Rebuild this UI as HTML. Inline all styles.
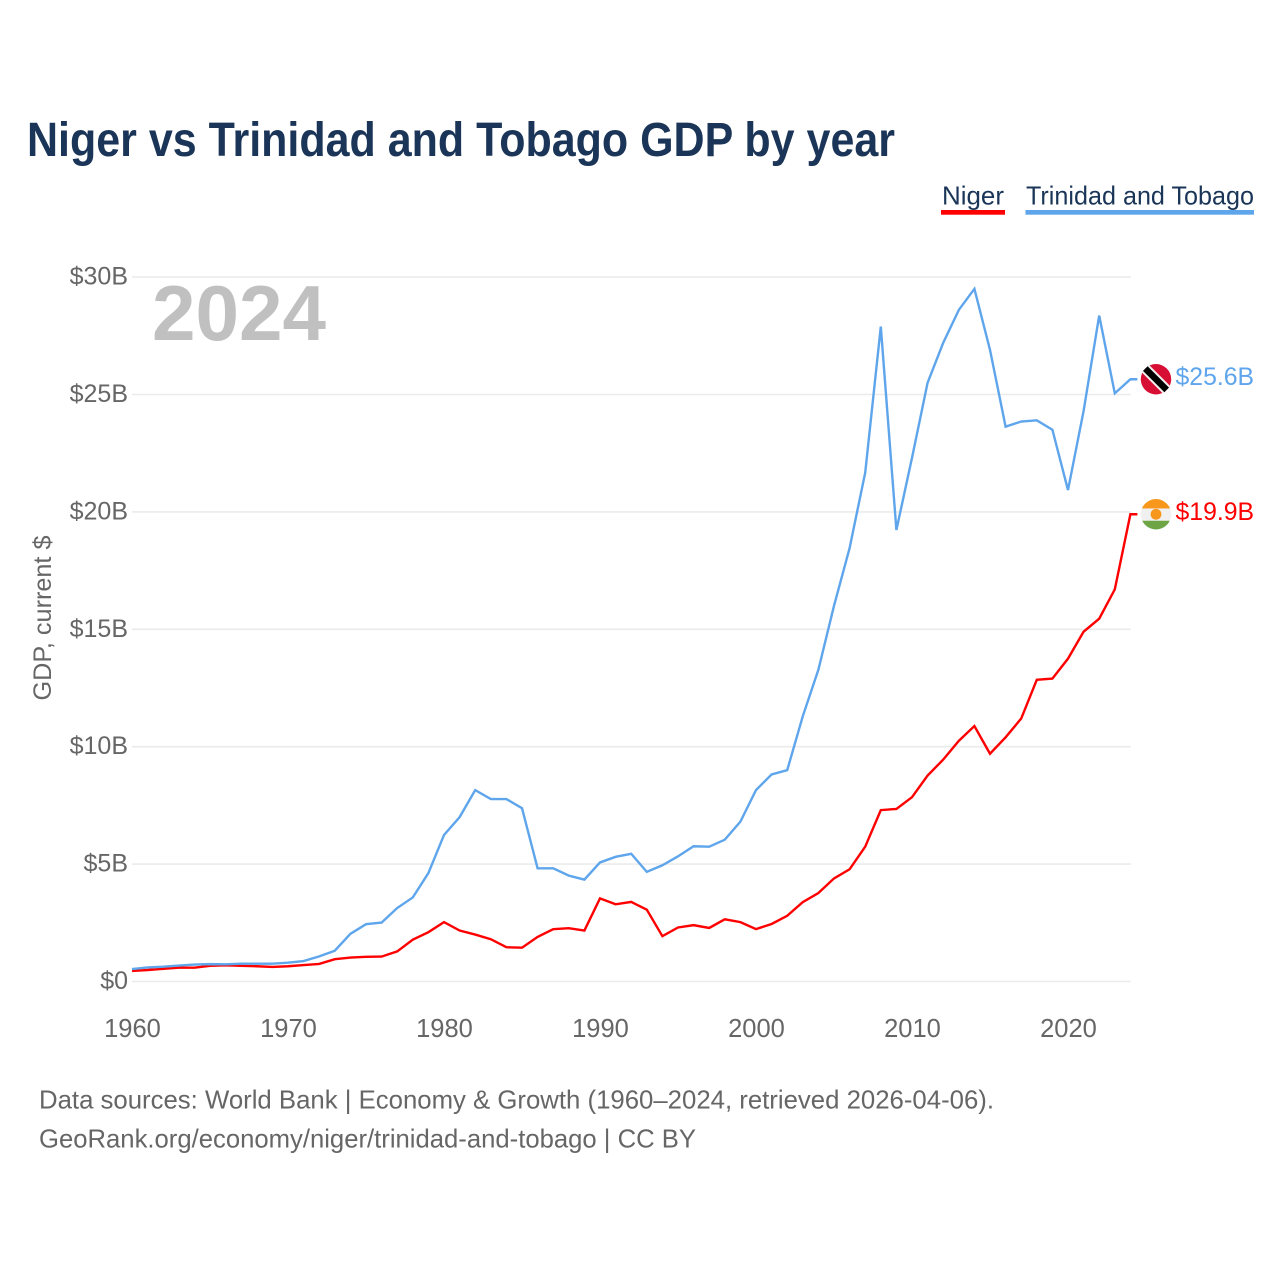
<!DOCTYPE html>
<html lang="en">
<head>
<meta charset="utf-8">
<title>Niger vs Trinidad and Tobago GDP by year</title>
<style>
html,body{margin:0;padding:0;background:#fff;}
svg{display:block;font-family:"Liberation Sans",sans-serif;}
</style>
</head>
<body>
<svg id="chart" xmlns="http://www.w3.org/2000/svg" width="1280" height="1280" viewBox="0 0 1280 1280">
  <rect x="0" y="0" width="1280" height="1280" fill="#ffffff"/>
  <text x="27" y="156" font-size="48" font-weight="700" fill="#1a3557" textLength="868" lengthAdjust="spacingAndGlyphs">Niger vs Trinidad and Tobago GDP by year</text>

  <g>
    <g>
      <text x="942" y="204.5" font-size="26" fill="#1a3557" textLength="62" lengthAdjust="spacingAndGlyphs">Niger</text>
      <rect x="941" y="210" width="64" height="4.7" fill="#ff0000"/>
    </g>
    <g>
      <text x="1026" y="204.5" font-size="26" fill="#1a3557" textLength="228" lengthAdjust="spacingAndGlyphs">Trinidad and Tobago</text>
      <rect x="1025.5" y="210" width="228.5" height="4.7" fill="#5ea5ec"/>
    </g>
  </g>

  <g id="grid"></g>
  <g id="yticks"></g>
  <g id="xticks"></g>

  <text x="152" y="340" font-size="78" font-weight="700" fill="#c0c0c0" textLength="174" lengthAdjust="spacingAndGlyphs">2024</text>

  <text transform="translate(51,618) rotate(-90)" text-anchor="middle" font-size="25" fill="#666666" textLength="165" lengthAdjust="spacingAndGlyphs">GDP, current $</text>

  <g id="series"></g>
  <g id="flags"></g>

  <g>
    <text x="39" y="1108.5" font-size="26" fill="#666666" textLength="955" lengthAdjust="spacingAndGlyphs">Data sources: World Bank | Economy &amp; Growth (1960–2024, retrieved 2026-04-06).</text>
    <text x="39" y="1147.5" font-size="26" fill="#666666" textLength="657" lengthAdjust="spacingAndGlyphs">GeoRank.org/economy/niger/trinidad-and-tobago | CC BY</text>
  </g>
</svg>
<script>
const startYear = 1960;
const xTickYears = [1960, 1970, 1980, 1990, 2000, 2010, 2020];
const yTickValues = [0, 5, 10, 15, 20, 25, 30];
const yTickLabels = ["$0", "$5B", "$10B", "$15B", "$20B", "$25B", "$30B"];
const trinidadGdp = [0.53, 0.6, 0.63, 0.68, 0.72, 0.74, 0.73, 0.76, 0.76, 0.76, 0.8, 0.87, 1.07, 1.31, 2.03, 2.44, 2.51, 3.13, 3.58, 4.62, 6.24, 7.0, 8.15, 7.77, 7.77, 7.38, 4.82, 4.82, 4.51, 4.34, 5.07, 5.31, 5.44, 4.67, 4.95, 5.33, 5.76, 5.74, 6.04, 6.81, 8.15, 8.82, 9.0, 11.3, 13.28, 16.0, 18.46, 21.67, 27.89, 19.23, 22.3, 25.5, 27.2, 28.6, 29.5, 26.9, 23.63, 23.85, 23.9, 23.5, 20.93, 24.3, 28.36, 25.05, 25.65];
const nigerGdp = [0.45, 0.49, 0.54, 0.59, 0.59, 0.67, 0.69, 0.67, 0.65, 0.62, 0.65, 0.7, 0.75, 0.95, 1.02, 1.05, 1.06, 1.28, 1.78, 2.1, 2.53, 2.17, 2.0, 1.8, 1.46, 1.44, 1.9, 2.23, 2.27, 2.17, 3.54, 3.29, 3.39, 3.06, 1.93, 2.3, 2.4, 2.28, 2.65, 2.53, 2.23, 2.45, 2.8, 3.38, 3.77, 4.39, 4.78, 5.74, 7.3, 7.35, 7.85, 8.77, 9.45, 10.25, 10.88, 9.7, 10.4, 11.2, 12.85, 12.9, 13.75, 14.9, 15.45, 16.7, 19.9];

const NS = "http://www.w3.org/2000/svg";
function xScale(year) { return 132 + (year - 1960) * 15.6; }
function yScale(value) { return 981.5 - value * 23.48; }
function make(tag, parent, attrs) {
  const el = document.createElementNS(NS, tag);
  for (const k in attrs) el.setAttribute(k, attrs[k]);
  parent.appendChild(el);
  return el;
}
const gridGroup = document.getElementById("grid");
const yGroup = document.getElementById("yticks");
const xGroup = document.getElementById("xticks");
const seriesGroup = document.getElementById("series");
const flagGroup = document.getElementById("flags");

yTickValues.forEach(function (v, i) {
  const line = make("line", gridGroup, { x1: 132, x2: 1131, y1: yScale(v), y2: yScale(v), stroke: "#ebebeb", "stroke-width": 1.6 });
  
  
  const label = make("text", yGroup, { x: 128, y: yScale(v) + 7.5, "text-anchor": "end", "font-size": 25, fill: "#666666" });
  
  
  label.textContent = yTickLabels[i];
});

xTickYears.forEach(function (yr) {
  const label = make("text", xGroup, { x: xScale(yr) + 0.5, y: 1037, "text-anchor": "middle", "font-size": 25.5, fill: "#666666" });
  
  
  label.textContent = String(yr);
});

function linePath(values) {
  const pts = values.map(function (v, i) { return xScale(startYear + i).toFixed(2) + "," + yScale(v).toFixed(2); });
  const last = values.length - 1;
  pts.push((xScale(startYear + last) + 7).toFixed(2) + "," + yScale(values[last]).toFixed(2));
  return "M" + pts.join("L");
}
function valueLabel(v) { return "$" + v.toFixed(1) + "B"; }

const nigerLine = make("path", seriesGroup, { d: linePath(nigerGdp), fill: "none", stroke: "#ff0000", "stroke-width": 2.4, "stroke-linejoin": "miter" });


const trinidadLine = make("path", seriesGroup, { d: linePath(trinidadGdp), fill: "none", stroke: "#5ea5ec", "stroke-width": 2.4, "stroke-linejoin": "miter" });



const flagX = 1156;
const lastIdx = trinidadGdp.length - 1;

// Trinidad and Tobago end marker
const ttY = yScale(trinidadGdp[lastIdx]);
const ttFlag = make("g", flagGroup, { transform: "translate(" + flagX + "," + ttY + ")" });


make("circle", ttFlag, { cx: 0, cy: 0, r: 15.2, fill: "#d80f34" });
make("line", ttFlag, { x1: -10.7, y1: -10.7, x2: 10.7, y2: 10.7, stroke: "#f4f0f0", "stroke-width": 10.5 });
make("line", ttFlag, { x1: -10.7, y1: -10.7, x2: 10.7, y2: 10.7, stroke: "#000000", "stroke-width": 6.5 });
const ttValue = make("text", flagGroup, { x: 1175.5, y: ttY + 6, "font-size": 24.8, fill: "#5ea5ec" });


ttValue.textContent = valueLabel(trinidadGdp[lastIdx]);

// Niger end marker
const nY = yScale(nigerGdp[lastIdx]);
const clip = make("clipPath", flagGroup, { id: "niger-clip" });
make("circle", clip, { cx: 0, cy: 0, r: 15.2 });
const nFlag = make("g", flagGroup, { transform: "translate(" + flagX + "," + nY + ")", "clip-path": "url(#niger-clip)" });


make("rect", nFlag, { x: -16, y: -16, width: 32, height: 32, fill: "#f0f0f0" });
make("rect", nFlag, { x: -16, y: -16, width: 32, height: 10.2, fill: "#f7981d" });
make("rect", nFlag, { x: -16, y: 6.5, width: 32, height: 10, fill: "#6da544" });
make("circle", nFlag, { cx: 0, cy: 0, r: 5.4, fill: "#f7981d" });
const nValue = make("text", flagGroup, { x: 1175.5, y: nY + 6, "font-size": 24.8, fill: "#ff0000" });


nValue.textContent = valueLabel(nigerGdp[lastIdx]);
</script>
</body>
</html>
